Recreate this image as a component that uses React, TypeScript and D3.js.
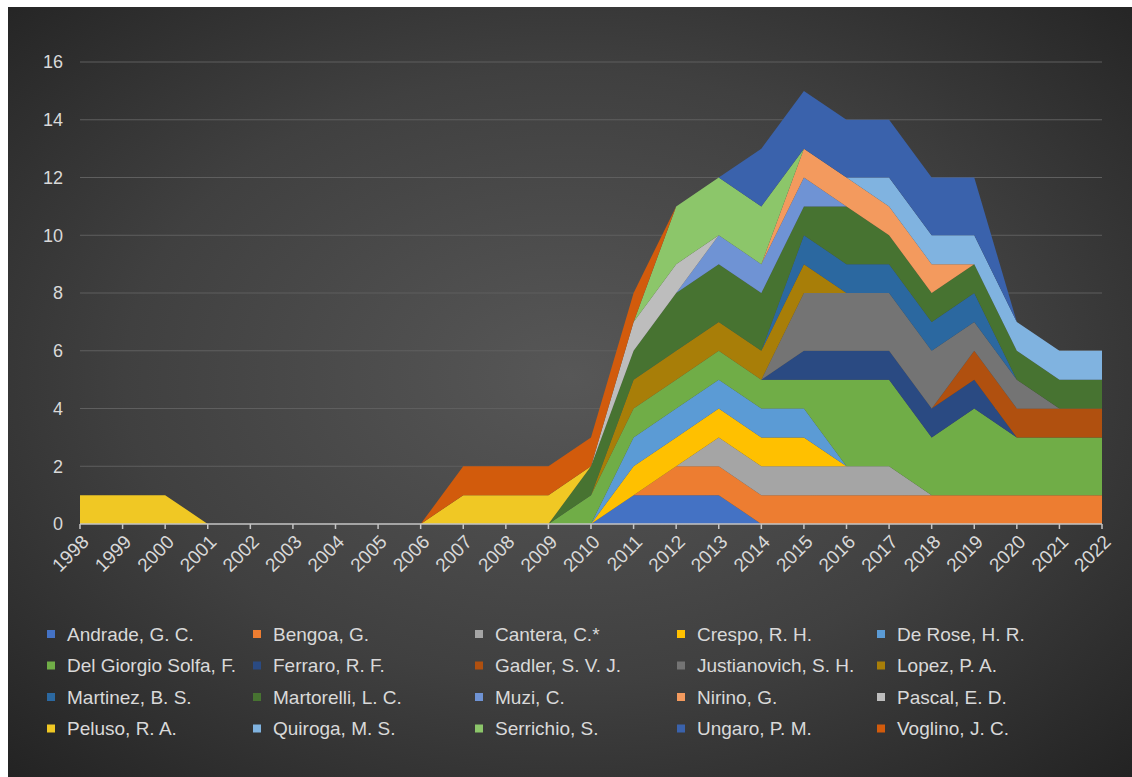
import React from "react";
import * as d3 from "d3";

const years = [1998, 1999, 2000, 2001, 2002, 2003, 2004, 2005, 2006, 2007, 2008, 2009, 2010, 2011, 2012, 2013, 2014, 2015, 2016, 2017, 2018, 2019, 2020, 2021, 2022];
const yTicks = [0, 2, 4, 6, 8, 10, 12, 14, 16];

const andrade =     [0,0,0,0,0,0,0,0,0,0,0,0,0,1,1,1,0,0,0,0,0,0,0,0,0];
const bengoa =      [0,0,0,0,0,0,0,0,0,0,0,0,0,0,1,1,1,1,1,1,1,1,1,1,1];
const cantera =     [0,0,0,0,0,0,0,0,0,0,0,0,0,0,0,1,1,1,1,1,0,0,0,0,0];
const crespo =      [0,0,0,0,0,0,0,0,0,0,0,0,0,1,1,1,1,1,0,0,0,0,0,0,0];
const deRose =      [0,0,0,0,0,0,0,0,0,0,0,0,0,1,1,1,1,1,0,0,0,0,0,0,0];
const delGiorgio =  [0,0,0,0,0,0,0,0,0,0,0,0,1,1,1,1,1,1,3,3,2,3,2,2,2];
const ferraro =     [0,0,0,0,0,0,0,0,0,0,0,0,0,0,0,0,0,1,1,1,1,1,0,0,0];
const gadler =      [0,0,0,0,0,0,0,0,0,0,0,0,0,0,0,0,0,0,0,0,0,1,1,1,1];
const justianovich =[0,0,0,0,0,0,0,0,0,0,0,0,0,0,0,0,0,2,2,2,2,1,1,0,0];
const lopez =       [0,0,0,0,0,0,0,0,0,0,0,0,0,1,1,1,1,1,0,0,0,0,0,0,0];
const martinez =    [0,0,0,0,0,0,0,0,0,0,0,0,0,0,0,0,0,1,1,1,1,1,0,0,0];
const martorelli =  [0,0,0,0,0,0,0,0,0,0,0,0,1,1,2,2,2,1,2,1,1,1,1,1,1];
const muzi =        [0,0,0,0,0,0,0,0,0,0,0,0,0,0,0,1,1,1,0,0,0,0,0,0,0];
const nirino =      [0,0,0,0,0,0,0,0,0,0,0,0,0,0,0,0,0,1,1,1,1,0,0,0,0];
const pascal =      [0,0,0,0,0,0,0,0,0,0,0,0,0,1,1,0,0,0,0,0,0,0,0,0,0];
const peluso =      [1,1,1,0,0,0,0,0,0,1,1,1,0,0,0,0,0,0,0,0,0,0,0,0,0];
const quiroga =     [0,0,0,0,0,0,0,0,0,0,0,0,0,0,0,0,0,0,0,1,1,1,1,1,1];
const serrichio =   [0,0,0,0,0,0,0,0,0,0,0,0,0,0,2,2,2,0,0,0,0,0,0,0,0];
const ungaro =      [0,0,0,0,0,0,0,0,0,0,0,0,0,0,0,0,2,2,2,2,2,2,0,0,0];
const voglino =     [0,0,0,0,0,0,0,0,0,1,1,1,1,1,0,0,0,0,0,0,0,0,0,0,0];

const seriesNames = [
  "Andrade, G. C.", "Bengoa, G.", "Cantera, C.*", "Crespo, R. H.", "De Rose, H. R.",
  "Del Giorgio Solfa, F.", "Ferraro, R. F.", "Gadler, S. V. J.", "Justianovich, S. H.", "Lopez, P. A.",
  "Martinez, B. S.", "Martorelli, L. C.", "Muzi, C.", "Nirino, G.", "Pascal, E. D.",
  "Peluso, R. A.", "Quiroga, M. S.", "Serrichio, S.", "Ungaro, P. M.", "Voglino, J. C.",
];
const seriesValues = [
  andrade, bengoa, cantera, crespo, deRose, delGiorgio, ferraro, gadler, justianovich, lopez,
  martinez, martorelli, muzi, nirino, pascal, peluso, quiroga, serrichio, ungaro, voglino,
];
const seriesColors = [
  "#4472C4", "#ED7D31", "#A5A5A5", "#FFC000", "#5B9BD5",
  "#70AD47", "#2A4A82", "#B0500F", "#747474", "#A87E08",
  "#2B68A0", "#477331", "#6F93D4", "#F39A5E", "#BDBDBD",
  "#F0C824", "#80B3E0", "#8CC66A", "#3A62AC", "#D25B0C",
];

export default function App() {
  const W = 1132, H = 777;
  const x = d3.scaleLinear().domain([1998, 2022]).range([80, 1102]);
  const y = d3.scaleLinear().domain([0, 16]).range([524, 62]);

  const table = years.map((yr, i) => {
    const row: any = { year: yr };
    seriesNames.forEach((n, k) => { row[n] = seriesValues[k][i]; });
    return row;
  });
  const stack = d3.stack<any>().keys(seriesNames).order(d3.stackOrderNone).offset(d3.stackOffsetNone);
  const layers = stack(table);
  const area = d3.area<any>()
    .x((d) => x(d.data.year))
    .y0((d) => y(d[0]))
    .y1((d) => y(d[1]))
    .curve(d3.curveLinear);

  const font = "'Liberation Sans', Arial, sans-serif";
  const textColor = "#d9d9d9";

  const legendColsText = [67, 273, 495, 697, 897];
  const legendRows = [634, 665.5, 697, 728.5];

  return (
    <svg width={W} height={H} style={{ position: "absolute", left: 0, top: 0 }} fontFamily={font}>
      <defs>
        <radialGradient id="bg" cx="50%" cy="48%" r="72%">
          <stop offset="0%" stopColor="#575757" />
          <stop offset="55%" stopColor="#404040" />
          <stop offset="100%" stopColor="#232323" />
        </radialGradient>
      </defs>
      <rect x={0} y={0} width={W} height={H} fill="#ffffff" />
      <rect x={8} y={7} width={W - 8} height={H - 7} fill="url(#bg)" />

      {yTicks.filter((t) => t > 0).map((t) => (
        <line key={"g" + t} x1={80} x2={1102} y1={y(t)} y2={y(t)} stroke="#5f5f5f" strokeWidth={1} />
      ))}

      {layers.map((layer, k) => (
        <path key={seriesNames[k]} d={area(layer) || ""} fill={seriesColors[k]} stroke="none" />
      ))}

      <line x1={80} x2={1102} y1={y(0)} y2={y(0)} stroke="#c4c4c4" strokeWidth={1.5} />
      {years.map((yr) => (
        <line key={"t" + yr} x1={x(yr)} x2={x(yr)} y1={y(0)} y2={y(0) + 5} stroke="#c4c4c4" strokeWidth={1.5} />
      ))}

      {yTicks.map((t) => (
        <text key={"yl" + t} x={63} y={y(t)} dy="0.35em" textAnchor="end" fontSize={18} fill={textColor}>{t}</text>
      ))}

      {years.map((yr) => (
        <text key={"xl" + yr} transform={`translate(${x(yr) + 10},${y(0) + 19}) rotate(-45)`} textAnchor="end" fontSize={19} fill={textColor}>{yr}</text>
      ))}

      {seriesNames.map((n, k) => {
        const col = k % 5, row = Math.floor(k / 5);
        const tx = legendColsText[col];
        const ty = legendRows[row];
        return (
          <g key={"lg" + n}>
            <rect x={tx - 20} y={ty - 4} width={8} height={8} fill={seriesColors[k]} />
            <text x={tx} y={ty} dy="0.35em" fontSize={19} fill={textColor}>{n}</text>
          </g>
        );
      })}
    </svg>
  );
}
